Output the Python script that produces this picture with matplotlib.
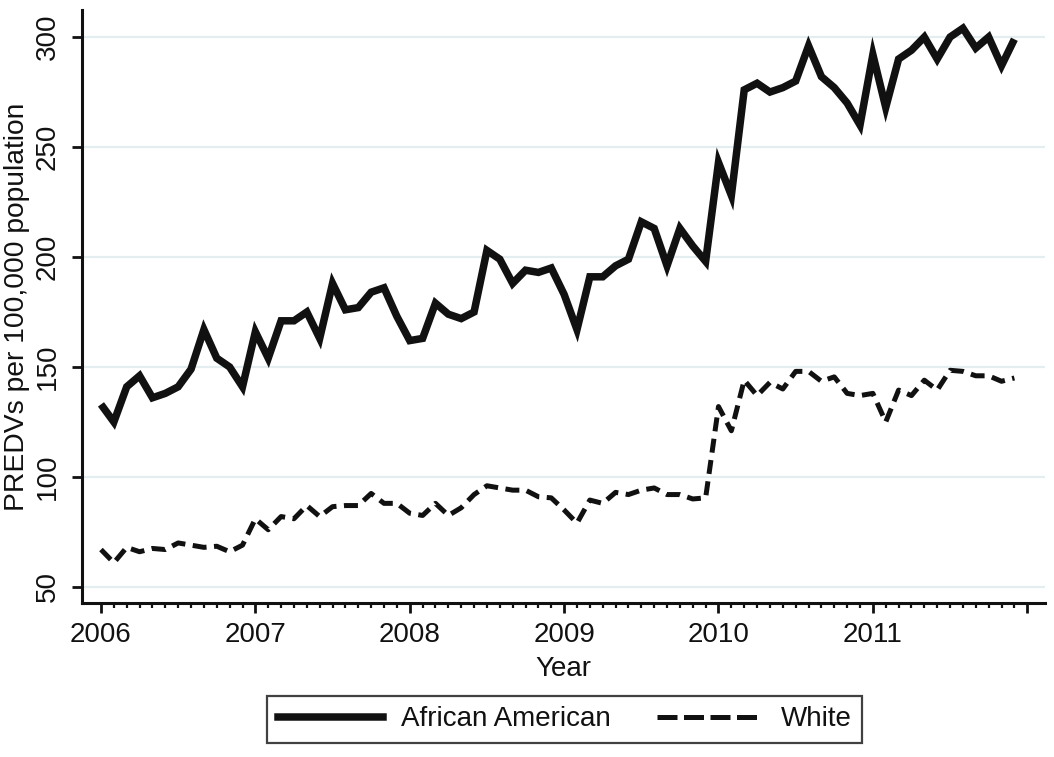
import matplotlib
matplotlib.use("Agg")
import matplotlib.pyplot as plt
from matplotlib.ticker import FixedLocator
from matplotlib.lines import Line2D
import numpy as np

plt.rcParams['font.family'] = ['Liberation Sans', 'DejaVu Sans']

start_year = 2006
n_months = 72

african_american = [
    133, 125, 141, 146, 136, 138, 141, 149, 167, 154, 150, 141,
    166, 154, 171, 171, 175, 163, 188, 176, 177, 184, 186, 173,
    162, 163, 179, 174, 172, 175, 203, 199, 188, 194, 193, 195,
    183, 167, 191, 191, 196, 199, 216, 213, 196, 213, 205, 198,
    243, 228, 276, 279, 275, 277, 280, 296, 282, 277, 270, 260,
    292, 268, 290, 294, 300, 290, 300, 304, 295, 300, 287, 299,
]
white = [
    67, 61, 68, 66, 67.5, 67, 70, 69, 68, 68.5, 66, 69,
    81, 76, 82, 81, 87, 82, 86.5, 87, 87, 92.5, 88, 88,
    83.5, 82.5, 88, 82.5, 86, 92, 96, 95, 94, 94, 91, 90.5,
    85, 79, 89.5, 88, 93, 92, 94, 95, 92, 92, 90, 90.5,
    132, 121, 144, 137, 143, 140, 148, 148, 143.5, 145.5, 138, 137,
    138, 125, 139.5, 137, 144, 139.5, 148.5, 148, 146, 146, 143.5, 145,
]
series_labels = ["African American", "White"]
year_ticks = [2006, 2007, 2008, 2009, 2010, 2011, 2012]
year_labels = ["2006", "2007", "2008", "2009", "2010", "2011", ""]
y_ticks = [50, 100, 150, 200, 250, 300]

x = start_year + np.arange(n_months) / 12.0

fig = plt.figure(figsize=(10.54, 7.57), dpi=100)
ax = fig.add_axes([82/1054, 1-603/757, (1045-82)/1054, (603-10)/757])

for yt in y_ticks:
    ax.axhline(yt, color='#e4edef', lw=1.6, zorder=0)

ax.plot(x, african_american, color='#111111', lw=5.4, solid_joinstyle='miter',
        solid_capstyle='butt', zorder=3, label=series_labels[0])
ax.plot(x, white, color='#111111', lw=3.6, dashes=(2.8, 1.5),
        dash_capstyle='butt', zorder=3, label=series_labels[1])

ax.set_xlim(2006 - 0.123, 2012.115)
ax.set_ylim(42.7, 312.3)

ax.xaxis.set_major_locator(FixedLocator(year_ticks))
ax.set_xticklabels(year_labels)
ax.xaxis.set_minor_locator(FixedLocator(start_year + np.arange(0, 73) / 12.0))
ax.set_yticks(y_ticks)
ax.set_yticklabels([str(v) for v in y_ticks], rotation=90, va='center')

for side in ['top', 'right']:
    ax.spines[side].set_visible(False)
for side in ['left', 'bottom']:
    ax.spines[side].set_linewidth(2.2)
    ax.spines[side].set_color('#111111')

ax.tick_params(axis='both', which='major', length=7.5, width=2.0, labelsize=20,
               colors='#111111', pad=6)
ax.tick_params(axis='x', which='minor', length=3.8, width=1.6, colors='#111111')
ax.tick_params(axis='y', which='major', pad=8)

ax.set_xlabel("Year", fontsize=20, labelpad=6, color='#111111')
ax.set_ylabel("PREDVs per 100,000 population", fontsize=20.3, labelpad=3.5, color='#111111')

handles = [Line2D([], [], color='#111111', lw=5.4),
           Line2D([], [], color='#111111', lw=3.6, dashes=(4.0, 1.3))]
leg = fig.legend(handles, series_labels, loc='center', bbox_to_anchor=(564.5/1054, 1-719.5/757),
                 ncol=2, fontsize=20, frameon=True, fancybox=False, handlelength=3.8,
                 handletextpad=0.65, columnspacing=1.65, borderpad=0.38)
leg.get_frame().set_edgecolor('#111111')
leg.get_frame().set_linewidth(1.6)
for t in leg.get_texts():
    t.set_color('#111111')

fig.savefig("out.png", dpi=100)
